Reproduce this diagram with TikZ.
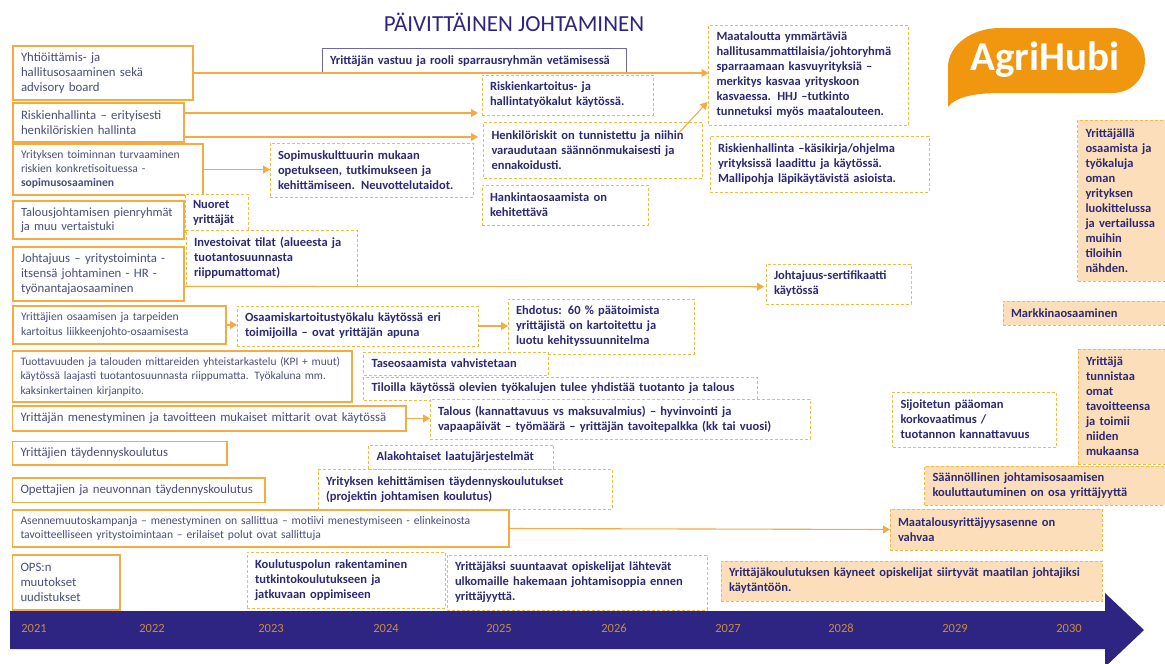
\documentclass[tikz,border=0pt]{standalone}
\usepackage{fontspec}
\setmainfont{Carlito}
\usetikzlibrary{arrows.meta}
\definecolor{navy}{HTML}{2E2582}
\definecolor{orangeline}{HTML}{F5AA42}
\definecolor{dashline}{HTML}{F8B93F}
\definecolor{peach}{HTML}{FCDFBA}
\definecolor{soft}{HTML}{4A4F7C}
\definecolor{dark}{HTML}{2C2A74}
\definecolor{yearcol}{HTML}{C98C3A}
\definecolor{logoorange}{HTML}{F1970F}
\newcommand\bx[7]{%
  \pgfmathsetmacro\bxw{#4-#2}\pgfmathsetmacro\bxh{#5-#3}\pgfmathsetmacro\bxt{#4-#2-16}%
  \node[#6,anchor=north west,minimum width=\bxw pt,minimum height=\bxh pt,text width=\bxt pt] (#1) at (#2,#3) {#7};}
\tikzset{
  basebox/.style={align=left,inner xsep=8pt,inner ysep=0pt,outer sep=0pt},
  solidbox/.style={basebox,draw=orangeline,line width=1.1pt,fill=white,text=soft,font=\fontsize{12.8}{15}\selectfont},
  midsolid/.style={solidbox,font=\fontsize{12.5}{14.5}\selectfont},
  smallsolid/.style={solidbox,font=\fontsize{11.6}{14.3}\selectfont},
  tightsolid/.style={solidbox,font=\fontsize{11.4}{14.6}\selectfont},
  dashbox/.style={basebox,draw=dashline,line width=1pt,dash pattern=on 3pt off 2pt,fill=white,text=dark,font=\bfseries\fontsize{12.5}{15}\selectfont},
  peachbox/.style={dashbox,fill=peach},
  purplebox/.style={basebox,draw=navy!70!white,line width=1pt,fill=white,text=dark,font=\bfseries\fontsize{12.5}{15}\selectfont},
  conn/.style={draw=orangeline,line width=1.1pt,-{Triangle[length=7pt,width=8pt,fill=orangeline]}},
  yearlabel/.style={text=yearcol,font=\fontsize{12.5}{15}\selectfont,inner sep=0pt}
}
\begin{document}
\begin{tikzpicture}[x=1pt,y=-1pt]
\useasboundingbox (0,0) rectangle (1165,664);
% banner
\fill[navy] (10,611) -- (1105,611) -- (1105,593) -- (1144,630) -- (1105,667) -- (1105,649) -- (10,649) -- cycle;
\foreach \yr/\xp in {2021/34,2022/152,2023/271,2024/386,2025/499,2026/614,2027/728,2028/841,2029/955,2030/1069}
  \node[yearlabel] (y\yr) at (\xp,628) {\yr};
% title
\node[text=navy,font=\fontsize{23}{26}\selectfont,inner sep=0pt] (title) at (514,22) {PÄIVITTÄINEN JOHTAMINEN};
% logo
\fill[logoorange] (948,107) -- (948,67) .. controls (948,45) and (972,28) .. (1000,28) -- (1112,28)
  .. controls (1134,28) and (1145,45) .. (1145,60) .. controls (1145,78) and (1132,93) .. (1112,93)
  -- (1000,93) .. controls (975,93) and (955,97) .. (948,107) -- cycle;
\node[text=white,font=\bfseries\fontsize{41}{44}\selectfont,inner sep=0pt] (logo) at (1045,60) {AgriHubi};
% solid boxes
\bx{A}{13}{46}{193}{100}{solidbox}{Yhtiöittämis- ja\\hallitusosaaminen sekä\\advisory board}
\bx{B}{13}{103}{184}{142}{solidbox}{Riskienhallinta – erityisesti\\henkilöriskien hallinta}
\bx{C}{13}{144}{203}{195}{smallsolid}{Yrityksen toiminnan turvaaminen\\riskien konkretisoituessa -\\\textbf{sopimusosaaminen}}
\bx{D}{13}{201}{184}{239}{midsolid}{Talousjohtamisen pienryhmät\\ja muu vertaistuki}
\bx{E}{13}{247}{184}{301}{solidbox}{Johtajuus – yritystoiminta -\\itsensä johtaminen - HR -\\työnantajaosaaminen}
\bx{F}{13}{306}{226}{344}{smallsolid}{Yrittäjien osaamisen ja tarpeiden\\kartoitus liikkeenjohto-osaamisesta}
\bx{G}{12.5}{351}{352}{402}{tightsolid}{Tuottavuuden ja talouden mittareiden yhteistarkastelu (KPI + muut)\\käytössä laajasti tuotantosuunnasta riippumatta. Työkaluna mm.\\kaksinkertainen kirjanpito.}
\bx{H}{12.5}{406}{406}{431}{solidbox}{Yrittäjän menestyminen ja tavoitteen mukaiset mittarit ovat käytössä}
\bx{I}{12.5}{441.5}{227}{465}{solidbox}{Yrittäjien täydennyskoulutus}
\bx{J}{12.5}{478}{265}{502.5}{solidbox}{Opettajien ja neuvonnan täydennyskoulutus}
\bx{K}{12.5}{510}{509}{547}{smallsolid}{Asennemuutoskampanja – menestyminen on sallittua – motiivi menestymiseen - elinkeinosta\\tavoitteelliseen yritystoimintaan – erilaiset polut ovat sallittuja}
\bx{L}{12.5}{555}{120}{610}{solidbox}{OPS:n\\muutokset\\uudistukset}
% white dashed boxes
\bx{vastuu}{322}{48.5}{626}{73}{purplebox}{Yrittäjän vastuu ja rooli sparrausryhmän vetämisessä}
\bx{kart}{482}{75}{653}{115}{dashbox}{Riskienkartoitus- ja\\hallintatyökalut käytössä.}
\bx{henk}{483.5}{122}{702}{178}{dashbox}{Henkilöriskit on tunnistettu ja niihin\\varaudutaan säännönmukaisesti ja\\ennakoidusti.}
\bx{hank}{482}{185}{648}{225}{dashbox}{Hankintaosaamista on\\kehitettävä}
\bx{sop}{270}{143}{473}{197}{dashbox}{Sopimuskulttuurin mukaan\\opetukseen, tutkimukseen ja\\kehittämiseen. Neuvottelutaidot.}
\bx{nuoret}{185}{194}{248}{232}{dashbox}{Nuoret\\yrittäjät}
\bx{inv}{186}{230}{357}{286}{dashbox}{Investoivat tilat (alueesta ja\\tuotantosuunnasta\\riippumattomat)}
\bx{osa}{237}{306}{478}{346}{dashbox}{Osaamiskartoitustyökalu käytössä eri\\toimijoilla – ovat yrittäjän apuna}
\bx{ehd}{508}{299}{694}{354}{dashbox}{Ehdotus: 60 \% päätoimista\\yrittäjistä on kartoitettu ja\\luotu kehityssuunnitelma}
\bx{maat}{708.5}{25}{908}{125}{dashbox}{Maataloutta ymmärtäviä\\hallitusammattilaisia/johtoryhmä\\sparraamaan kasvuyrityksiä –\\merkitys kasvaa yrityskoon\\kasvaessa. HHJ –tutkinto\\tunnetuksi myös maatalouteen.}
\bx{risk}{710}{136}{929}{192}{dashbox}{Riskienhallinta –käsikirja/ohjelma\\yrityksissä laadittu ja käytössä.\\Mallipohja läpikäytävistä asioista.}
\bx{sert}{766}{264}{911}{304}{dashbox}{Johtajuus-sertifikaatti\\käytössä}
\bx{tase}{363.5}{352}{548}{375}{dashbox}{Taseosaamista vahvistetaan}
\bx{tilo}{363.5}{377}{757}{400}{dashbox}{Tiloilla käytössä olevien työkalujen tulee yhdistää tuotanto ja talous}
\bx{tal}{430}{399}{810}{439}{dashbox}{Talous (kannattavuus vs maksuvalmius) – hyvinvointi ja\\vapaapäivät – työmäärä – yrittäjän tavoitepalkka (kk tai vuosi)}
\bx{ala}{368.5}{445}{553.5}{469}{dashbox}{Alakohtaiset laatujärjestelmät}
\bx{kehi}{318}{469.5}{612}{509}{dashbox}{Yrityksen kehittämisen täydennyskoulutukset\\(projektin johtamisen koulutus)}
\bx{polku}{247}{552}{445}{608}{dashbox}{Koulutuspolun rakentaminen\\tutkintokoulutukseen ja\\jatkuvaan oppimiseen}
\bx{suun}{447}{555}{707}{610}{dashbox}{Yrittäjäksi suuntaavat opiskelijat lähtevät\\ulkomaille hakemaan johtamisoppia ennen\\yrittäjyyttä.}
\bx{sij}{892.5}{392}{1056}{447}{dashbox}{Sijoitetun pääoman\\korkovaatimus /\\tuotannon kannattavuus}
% peach boxes
\bx{tyok}{1077.5}{120}{1167}{281}{peachbox}{Yrittäjällä\\osaamista ja\\työkaluja\\oman\\yrityksen\\luokittelussa\\ja vertailussa\\muihin\\tiloihin\\nähden.}
\bx{mark}{1003}{301}{1167}{325}{peachbox}{Markkinaosaaminen}
\bx{tunn}{1078}{349}{1167}{464}{peachbox}{Yrittäjä\\tunnistaa\\omat\\tavoitteensa\\ja toimii\\niiden\\mukaansa}
\bx{saan}{924.5}{466}{1167}{505}{peachbox}{Säännöllinen johtamisosaamisen\\kouluttautuminen on osa yrittäjyyttä}
\bx{asenne}{890}{509}{1102}{550}{peachbox}{Maatalousyrittäjyysasenne on\\vahvaa}
\bx{siirt}{721}{561}{1102}{601}{peachbox}{Yrittäjäkoulutuksen käyneet opiskelijat siirtyvät maatilan johtajiksi\\käytäntöön.}
% connectors
\draw[conn] (A.east) -- (A.east -| maat.west);
\draw[conn] ([yshift=9.5pt]B.east) -- ([shift={(-4pt,-18pt)}]kart.west);
\draw[conn] ([yshift=-14.5pt]B.east) -- ([shift={(-5.5pt,13pt)}]henk.west);
\draw[conn] (C.east) -- (C.east -| sop.west);
\draw[conn] ([shift={(86pt,-11pt)}]henk.north) -- ([shift={(-1pt,-27pt)}]maat.west);
\draw[conn] ([yshift=-12.5pt]E.east) -- ([shift={(-2pt,-2.7pt)}]sert.west);
\draw[conn] (F.east) -- (F.east -| osa.west);
\draw[conn] (osa.east) -- (osa.east -| ehd.west);
\draw[conn] (H.east) -- (H.east -| tal.west);
\draw[conn] (K.east) -- (asenne.west);
\end{tikzpicture}
\end{document}
